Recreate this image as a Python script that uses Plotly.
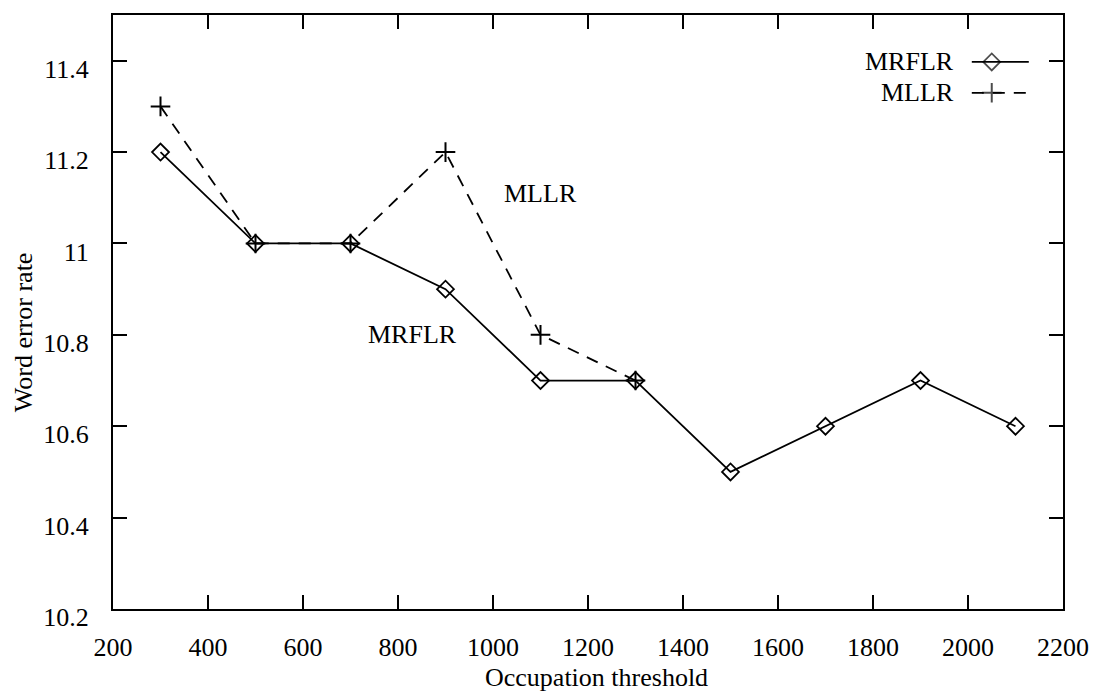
import plotly.graph_objects as go

# ---- data ----
thresholds_mrflr = [300, 500, 700, 900, 1100, 1300, 1500, 1700, 1900, 2100]
wer_mrflr = [11.2, 11.0, 11.0, 10.9, 10.7, 10.7, 10.5, 10.6, 10.7, 10.6]
thresholds_mllr = [300, 500, 700, 900, 1100, 1300]
wer_mllr = [11.3, 11.0, 11.0, 11.2, 10.8, 10.7]
x_ticks = [200, 400, 600, 800, 1000, 1200, 1400, 1600, 1800, 2000, 2200]
y_ticks = [10.2, 10.4, 10.6, 10.8, 11.0, 11.2, 11.4]
y_tick_text = ["10.2", "10.4", "10.6", "10.8", "11", "11.2", "11.4"]

FONT = "Liberation Serif, Times New Roman, serif"
FS = 26

fig = go.Figure()

fig.add_trace(go.Scatter(
    x=thresholds_mllr, y=wer_mllr, mode="lines+markers", name="MLLR",
    line=dict(color="black", width=1.8, dash="12px,9px"),
    marker=dict(symbol="cross-thin-open", size=14, line=dict(color="black", width=2)),
    showlegend=False))
fig.add_trace(go.Scatter(
    x=thresholds_mrflr, y=wer_mrflr, mode="lines+markers", name="MRFLR",
    line=dict(color="black", width=1.8),
    marker=dict(symbol="diamond-open", size=13, color="black", line=dict(color="black", width=1.8)),
    showlegend=False))

# ---- manual legend (text first, then sample) ----
leg_x = [0.904, 0.925, 0.964]
leg_y_mrflr = 0.921
leg_y_mllr = 0.869
fig.add_trace(go.Scatter(
    x=leg_x, y=[leg_y_mrflr] * 3, xaxis="x2", yaxis="y2", mode="lines+markers",
    line=dict(color="black", width=1.8),
    marker=dict(symbol="diamond-open", size=[0, 13, 0], color="black", line=dict(color="black", width=1.8)),
    showlegend=False, hoverinfo="skip"))
fig.add_trace(go.Scatter(
    x=leg_x, y=[leg_y_mllr] * 3, xaxis="x2", yaxis="y2", mode="lines+markers",
    line=dict(color="black", width=1.8, dash="12px,9px"),
    marker=dict(symbol="cross-thin-open", size=[0, 14, 0], line=dict(color="black", width=2)),
    showlegend=False, hoverinfo="skip"))

annotations = [
    dict(text="MRFLR", x=0.887, y=leg_y_mrflr, xref="paper", yref="paper",
         xanchor="right", yanchor="middle", showarrow=False),
    dict(text="MLLR", x=0.887, y=leg_y_mllr, xref="paper", yref="paper",
         xanchor="right", yanchor="middle", showarrow=False),
    dict(text="MLLR", x=1101, y=11.11, xref="x", yref="y",
         xanchor="center", yanchor="middle", showarrow=False),
    dict(text="MRFLR", x=830, y=10.80, xref="x", yref="y",
         xanchor="center", yanchor="middle", showarrow=False),
    dict(text="Word error rate", x=0, y=0.466, xref="paper", yref="paper",
         xanchor="center", yanchor="middle", xshift=-90, textangle=-90, showarrow=False),
    dict(text="Occupation threshold", x=0.5, y=0, xref="paper", yref="paper",
         xanchor="center", yanchor="middle", xshift=8, yshift=-68, showarrow=False),
]
for a in annotations:
    a["font"] = dict(family=FONT, size=FS, color="black")

axis_common = dict(
    showgrid=False, zeroline=False, showline=True, linecolor="black", linewidth=2,
    mirror="ticks", ticks="inside", ticklen=14, tickwidth=1.5, tickcolor="black",
    tickfont=dict(family=FONT, size=FS, color="black"), automargin=False,
)

fig.update_layout(
    width=1094, height=694,
    margin=dict(l=113, r=31, t=15, b=85),
    paper_bgcolor="white", plot_bgcolor="white",
    font=dict(family=FONT, size=FS, color="black"),
    xaxis=dict(range=[200, 2200], tickvals=x_ticks,
               ticklabelstandoff=14, **axis_common),
    yaxis=dict(range=[10.2, 11.5], tickvals=y_ticks, ticktext=y_tick_text,
               ticklabelstandoff=17, ticklabelshift=8, **axis_common),
    xaxis2=dict(range=[0, 1], overlaying="x", visible=False, fixedrange=True),
    yaxis2=dict(range=[0, 1], overlaying="y", visible=False, fixedrange=True),
    annotations=annotations,
)

fig.write_html("out.html")
